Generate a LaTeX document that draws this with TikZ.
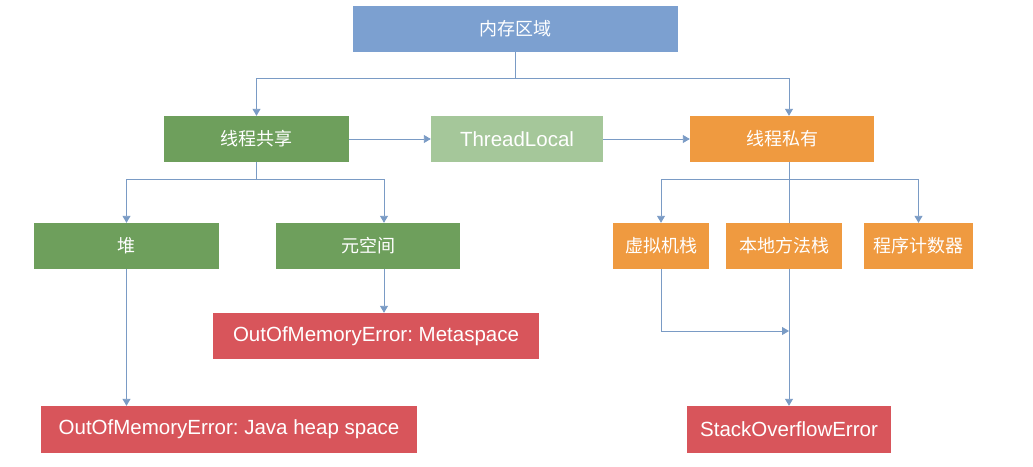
\documentclass[tikz,border=0pt]{standalone}
\usepackage{fontspec}
\setmainfont{Liberation Sans}
\newfontfamily\cjk{Noto Sans CJK SC}
\usetikzlibrary{positioning,arrows.meta,calc}
\frenchspacing
\definecolor{mrBlue}{HTML}{7CA0D0}
\definecolor{mrGreen}{HTML}{6E9F5C}
\definecolor{mrGreenL}{HTML}{A5C79A}
\definecolor{mrOrange}{HTML}{EF9A40}
\definecolor{mrRed}{HTML}{D8555B}
\definecolor{mrLine}{HTML}{7A9BC5}
\definecolor{mrWhite}{HTML}{FFFFFF}
\tikzset{
  mr-box/.style={
    draw=none, inner sep=0pt, text=mrWhite, align=center,
    font=\fontsize{20.5}{24}\selectfont, minimum height=46pt
  },
  mr-cn/.style={font=\fontsize{18}{22}\selectfont\cjk},
  mr-blue/.style={mr-box, mr-cn, fill=mrBlue},
  mr-green/.style={mr-box, mr-cn, fill=mrGreen},
  mr-local/.style={mr-box, fill=mrGreenL},
  mr-orange/.style={mr-box, mr-cn, fill=mrOrange},
  mr-red/.style={mr-box, fill=mrRed},
  mr-line/.style={line width=0.9pt, draw=mrLine},
  mr-flow/.style={mr-line, -{Triangle[length=7pt,width=8pt]}}
}
\begin{document}
\begin{tikzpicture}[x=1pt, y=-1pt]
\useasboundingbox (0,0) rectangle (1033,466);
\node[mr-blue, minimum width=325pt] (mem) at (515.5,29) {内存区域};
\node[mr-green, minimum width=185pt] (shared) at (256.5,139) {线程共享};
\node[mr-local, minimum width=172pt] (tl) at (517,139) {ThreadLocal};
\node[mr-orange, minimum width=184pt] (priv) at (782,139) {线程私有};
\node[mr-green, minimum width=185pt] (heap) at (126.5,246) {堆};
\node[mr-green, minimum width=184pt] (meta) at (368,246) {元空间};
\node[mr-orange, minimum width=96pt] (vm) at (661,246) {虚拟机栈};
\node[mr-orange, minimum width=116pt] (native) at (784,246) {本地方法栈};
\node[mr-orange, minimum width=109pt] (pc) at (918.5,246) {程序计数器};
\node[mr-red, minimum width=326pt] (metaerr) at (376,336)
  {OutOfMemoryError: Metaspace};
\node[mr-red, minimum width=376pt, minimum height=47pt] (heaperr) at (229,429.5)
  {OutOfMemoryError: Java heap space};
\node[mr-red, minimum width=204pt, minimum height=47pt] (soe) at (789,429.5)
  {StackOverflowError};

\coordinate (bus1) at (515.5,78);
\coordinate (bus2) at (256.5,179);
\coordinate (bus3) at (789,179);
\coordinate (privx) at (789,0);
\coordinate (metax) at (384,0);
\coordinate (join) at (789,331);

\draw[mr-line] (mem.south) -- (bus1);
\draw[mr-flow] (bus1) -| (shared.north);
\draw[mr-flow] (bus1) -| (priv.north -| privx);
\draw[mr-flow] (shared) -- (tl);
\draw[mr-flow] (tl) -- (priv);
\draw[mr-line] (shared.south) -- (bus2);
\draw[mr-flow] (bus2) -| (heap.north);
\draw[mr-flow] (bus2) -| (meta.north -| metax);
\draw[mr-line] (priv.south -| privx) -- (bus3);
\draw[mr-flow] (bus3) -| (vm.north);
\draw[mr-flow] (bus3) -| (pc.north);
\draw[mr-line] (bus3) -- (native.north -| privx);
\draw[mr-flow] (native.south -| privx) -- (soe.north);
\draw[mr-flow] (vm.south) |- (join);
\draw[mr-flow] (heap.south) -- (heaperr.north -| heap.south);
\draw[mr-flow] (meta.south -| metax) -- (metaerr.north -| metax);
\end{tikzpicture}
\end{document}
